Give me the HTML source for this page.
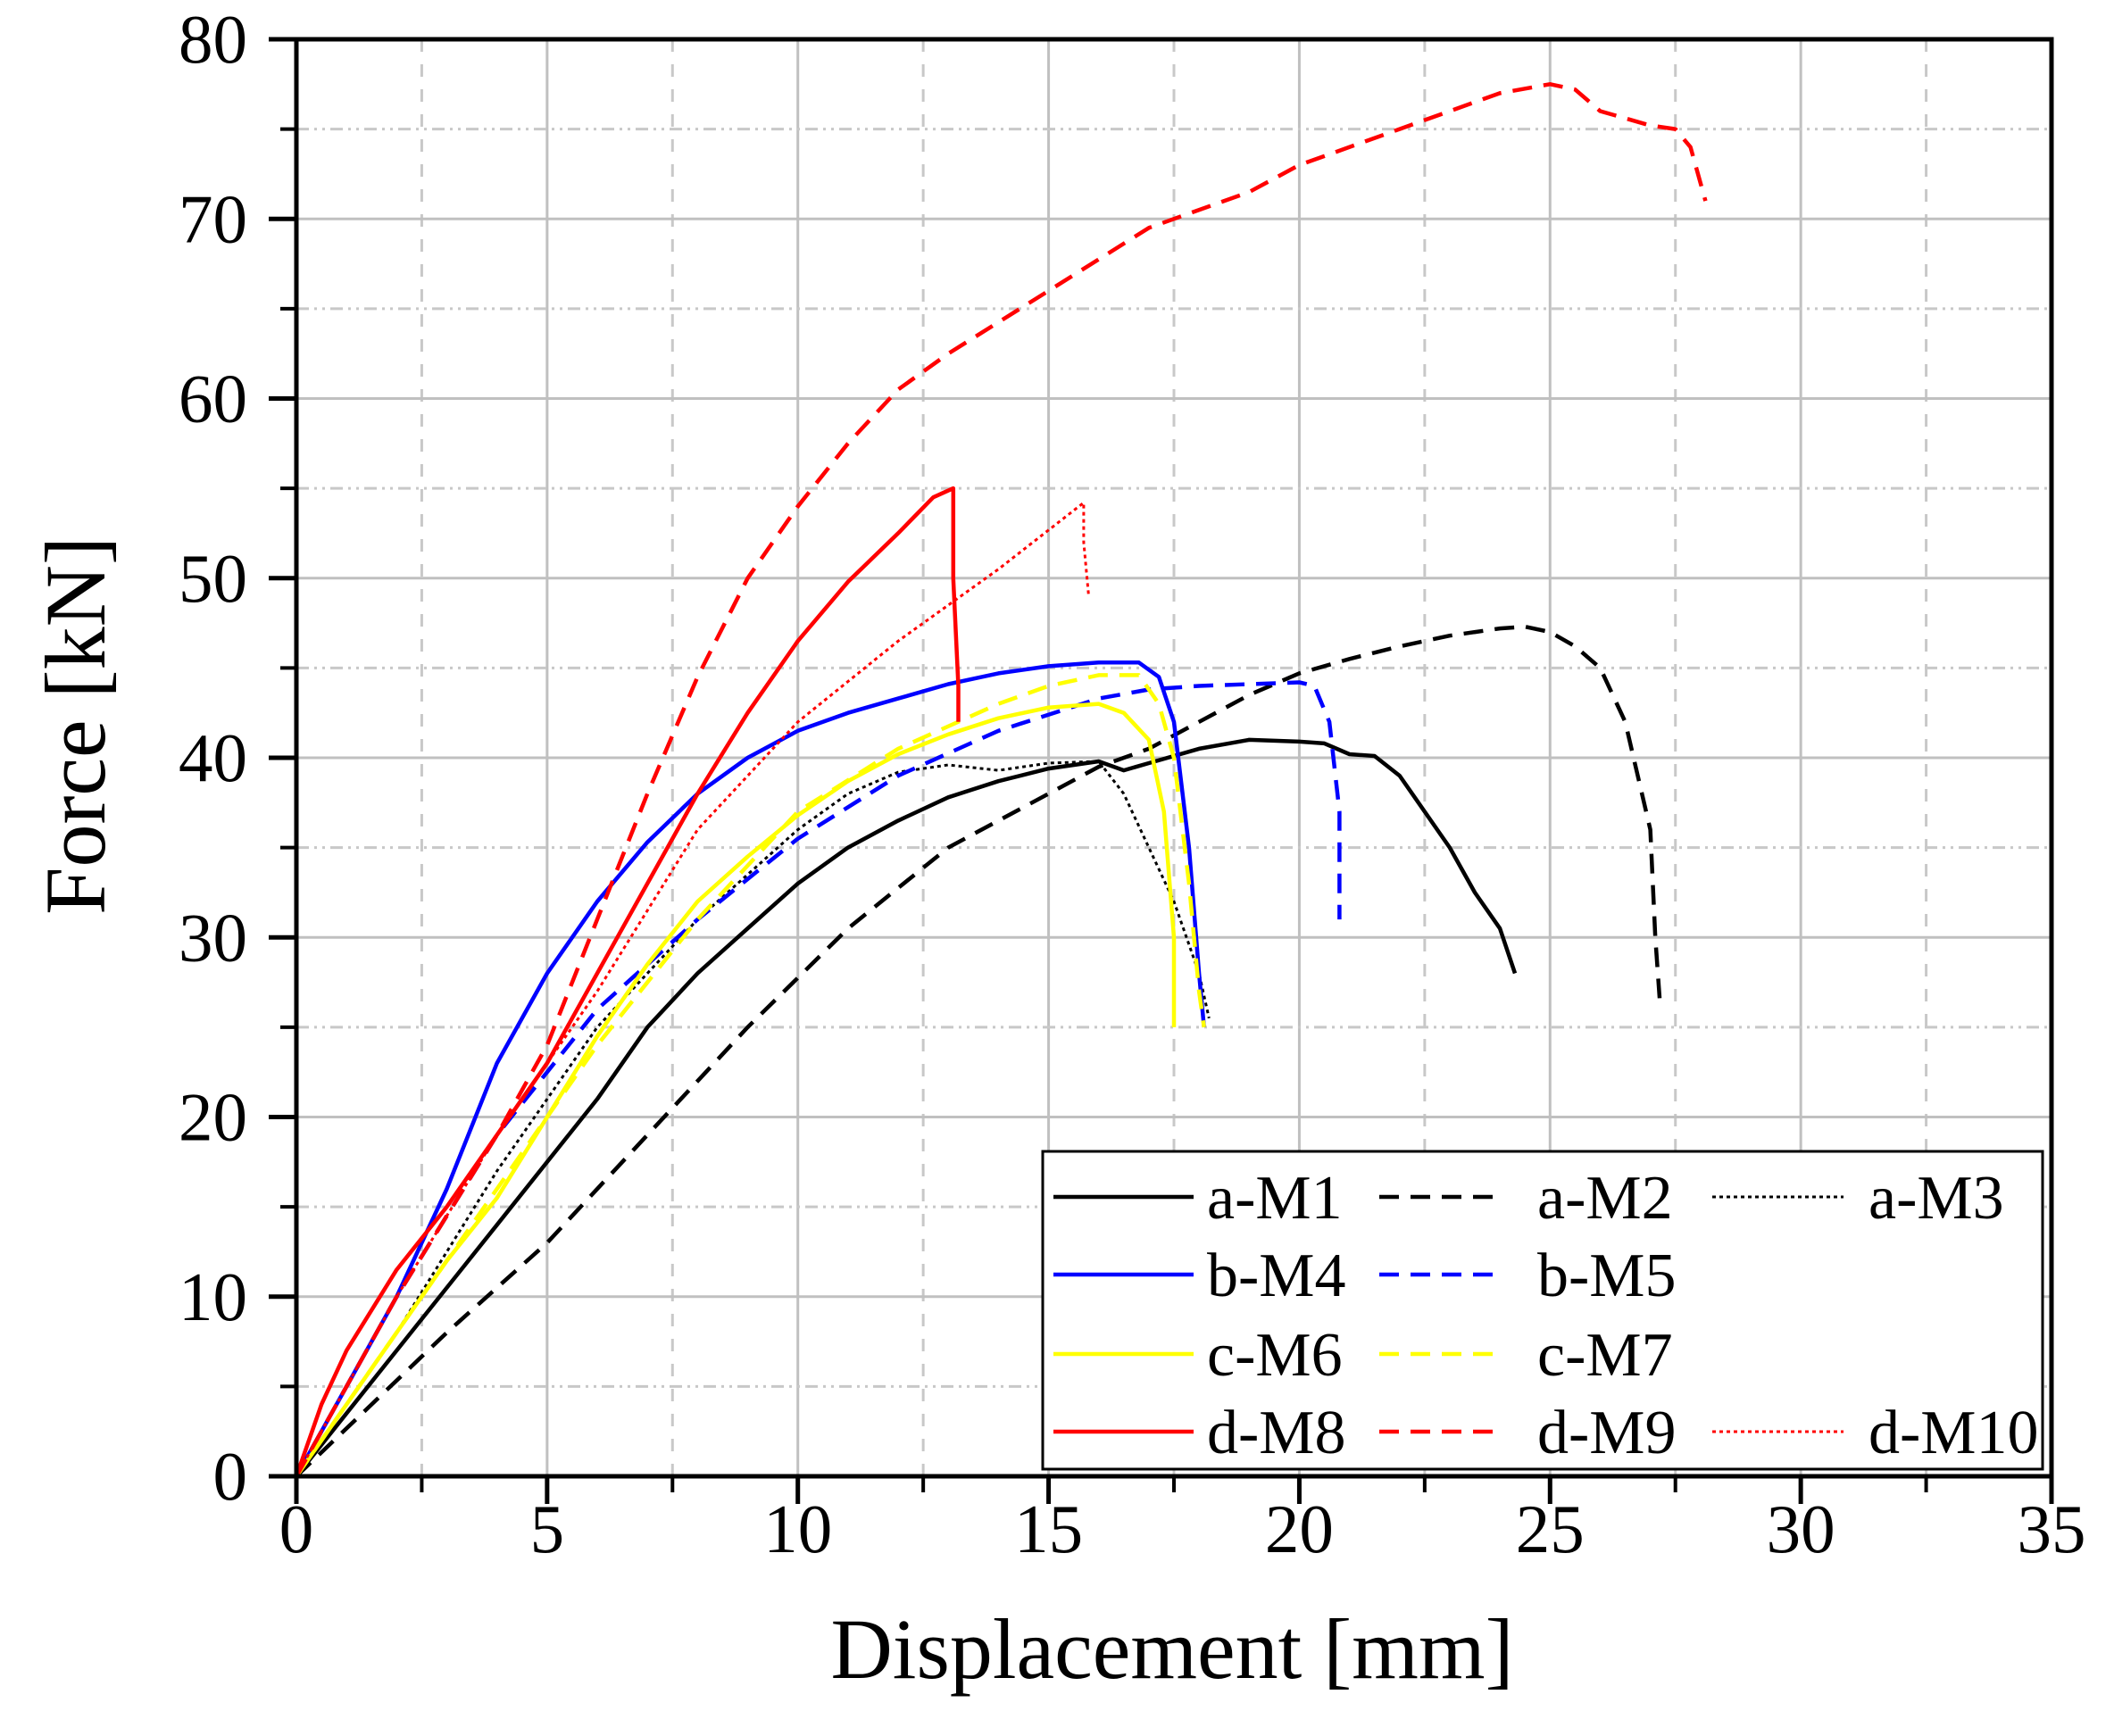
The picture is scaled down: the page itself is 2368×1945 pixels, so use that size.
<!DOCTYPE html>
<html><head><meta charset="utf-8"><style>
html,body{margin:0;padding:0;background:#fff;}
svg{display:block;font-family:"Liberation Serif",serif;}
</style></head><body>
<svg id="chart" width="2368" height="1945" viewBox="0 0 2368 1945">
<g id="grid"></g>
<g id="series"></g>
<g id="axes"></g>
<text x="1313" y="1880" font-size="96" text-anchor="middle">Displacement [mm]</text>
<text transform="translate(117,813) rotate(-90)" font-size="96" text-anchor="middle">Force [kN]</text>
<g id="legend"></g>
</svg>
<script>
const xTicks=[0,5,10,15,20,25,30,35];
const yTicks=[0,10,20,30,40,50,60,70,80];
const seriesNames=["a-M1","a-M2","a-M3","b-M4","b-M5","c-M6","c-M7","d-M8","d-M9","d-M10"];
const seriesColors=["#000","#000","#000","#0000ff","#0000ff","#ffff00","#ffff00","#ff0000","#ff0000","#ff0000"];
const seriesStyles=["solid","dash","dot","solid","dash","solid","dash","solid","dash","dot"];
const aM1=[[0,0],[2,7],[4,14],[6,21],[7,25],[8,28],[9,30.5],[10,33],[11,35],[12,36.5],[13,37.8],[14,38.7],[15,39.4],[16,39.8],[16.5,39.3],[17,39.7],[18,40.5],[19,41],[20,40.9],[20.5,40.8],[21,40.2],[21.5,40.1],[22,39],[23,35],[23.5,32.5],[24,30.5],[24.3,28]];
const aM2=[[0,0],[3,8],[5,13],[7,19],[9,25],[11,30.5],[13,35],[15,38],[16,39.5],[17,40.5],[18,42],[19,43.5],[20,44.7],[21,45.5],[22,46.2],[23,46.8],[24,47.2],[24.5,47.3],[25,47],[25.5,46.2],[26,45],[26.5,42],[27,36],[27.1,30],[27.2,26]];
const aM3=[[0,0],[2,8],[4,17],[6,25],[8,31],[10,36],[11,38],[12,39.2],[13,39.6],[14,39.3],[15,39.7],[16,39.8],[16.5,38],[17,35],[17.5,32],[18,28],[18.2,25.5]];
const bM4=[[0,0],[1,5],[2,10],[3,16],[4,23],[5,28],[6,32],[7,35.3],[8,38],[9,40],[10,41.5],[11,42.5],[12,43.3],[13,44.1],[14,44.7],[15,45.1],[16,45.3],[16.8,45.3],[17.2,44.5],[17.5,42],[17.8,35],[18,28],[18.1,25]];
const bM5=[[0,0],[2,10],[4,19],[6,26],[8,31],[10,35.5],[12,39],[14,41.5],[16,43.3],[17,43.8],[18,44],[19,44.1],[20,44.2],[20.3,44],[20.6,42],[20.8,37],[20.8,31]];
const cM6=[[0,0],[1,4],[2,8],[3,12],[4,15.5],[5,20],[6,24.5],[7,28.5],[8,32],[9,34.5],[10,36.8],[11,38.7],[12,40.2],[13,41.3],[14,42.2],[15,42.8],[16,43],[16.5,42.5],[17,41],[17.3,37],[17.5,30],[17.5,25]];
const cM7=[[0,0],[2,8],[4,16],[6,24],[8,31],[10,37],[12,40.5],[14,43],[15,44],[16,44.6],[16.8,44.6],[17.2,43],[17.5,40],[17.8,33],[18,27],[18.1,25]];
const dM8=[[0,0],[0.5,4],[1,7],[2,11.5],[3,15],[4,19],[5,23],[6,28],[7,33],[8,38],[9,42.5],[10,46.5],[11,49.8],[12,52.5],[12.7,54.5],[13.1,55],[13.1,50],[13.2,44],[13.2,42]];
const dM9=[[0,0],[2,10],[4,19],[5,24],[6,31],[7,38],[8,44.5],[9,50],[10,54],[11,57.5],[12,60.5],[13,62.5],[15,66],[17,69.5],[19,71.5],[20,73],[21,74],[22,75],[23,76],[24,77],[25,77.5],[25.5,77.2],[26,76],[27,75.2],[27.5,75],[27.8,74],[28,72],[28.1,71]];
const dM10=[[0,0],[2,10],[4,19],[6,27],[8,36],[10,42],[12,46.5],[14,50.5],[15.7,54.2],[15.7,52],[15.8,49]];
const seriesData=[aM1,aM2,aM3,bM4,bM5,cM6,cM7,dM8,dM9,dM10];

const X0=332,X1=2298,Y0=1654,Y1=44;
const sx=v=>X0+(v-0)/35*(X1-X0);
const sy=v=>Y0-(v-0)/80*(Y0-Y1);
const NS="http://www.w3.org/2000/svg";
function mk(tag,attrs,parent){const e=document.createElementNS(NS,tag);for(const k in attrs)e.setAttribute(k,attrs[k]);parent.appendChild(e);return e;}
const dashFor=s=>s==="dash"?"22,13":s==="dot"?"4,4":"none";
const widthFor=s=>s==="dot"?3:4.5;
const grid=document.getElementById('grid'),axes=document.getElementById('axes'),ser=document.getElementById('series'),leg=document.getElementById('legend');
for(let i=0;i<xTicks.length;i++){
  const v=xTicks[i];
  if(v>0&&v<35){const l=mk('line',{x1:sx(v),x2:sx(v),y1:Y1,y2:Y0,stroke:'#c0c0c0','stroke-width':3},grid);
  
  }
  if(i<xTicks.length-1){const m=v+2.5;const l=mk('line',{x1:sx(m),x2:sx(m),y1:Y1,y2:Y0,stroke:'#c8c8c8','stroke-width':3,'stroke-dasharray':'14,14'},grid);
  
  }
}
for(let i=0;i<yTicks.length;i++){
  const v=yTicks[i];
  if(v>0&&v<80){const l=mk('line',{x1:X0,x2:X1,y1:sy(v),y2:sy(v),stroke:'#c0c0c0','stroke-width':3},grid);
  
  }
  if(i<yTicks.length-1){const m=v+5;const l=mk('line',{x1:X0,x2:X1,y1:sy(m),y2:sy(m),stroke:'#c8c8c8','stroke-width':3,'stroke-dasharray':'14,6,3,6,3,6'},grid);
  
  }
}
for(let s=0;s<seriesData.length;s++){
  const d=seriesData[s].map(p=>sx(p[0]).toFixed(1)+','+sy(p[1]).toFixed(1)).join(' ');
  const pl=mk('polyline',{points:d,fill:'none',stroke:seriesColors[s],'stroke-width':widthFor(seriesStyles[s]),'stroke-dasharray':dashFor(seriesStyles[s]),'stroke-linejoin':'round'},ser);
  
  
}
const fr=mk('rect',{x:X0,y:Y1,width:X1-X0,height:Y0-Y1,fill:'none',stroke:'#000','stroke-width':5},axes);


for(let i=0;i<xTicks.length;i++){
  const v=xTicks[i];
  const t=mk('line',{x1:sx(v),x2:sx(v),y1:Y0,y2:Y0+31,stroke:'#000','stroke-width':5},axes);
  
  
  if(i<xTicks.length-1){const m=mk('line',{x1:sx(v+2.5),x2:sx(v+2.5),y1:Y0,y2:Y0+18,stroke:'#000','stroke-width':4},axes);
  
  }
  const tx=mk('text',{x:sx(v),y:1739,'font-size':77,'text-anchor':'middle'},axes);tx.textContent=v;
  
  
}
for(let i=0;i<yTicks.length;i++){
  const v=yTicks[i];
  const t=mk('line',{x1:X0-31,x2:X0,y1:sy(v),y2:sy(v),stroke:'#000','stroke-width':5},axes);
  
  
  if(i<yTicks.length-1){const m=mk('line',{x1:X0-18,x2:X0,y1:sy(v+5),y2:sy(v+5),stroke:'#000','stroke-width':4},axes);
  
  }
  const tx=mk('text',{x:277,y:sy(v)+26,'font-size':77,'text-anchor':'end'},axes);tx.textContent=v;
  
  
}
const lb=mk('rect',{x:1168,y:1290,width:1120,height:356,fill:'#fff',stroke:'#000','stroke-width':3},leg);


const rowY=[1341,1428,1517,1604];
const colL=[[1180,1337,1352],[1545,1680,1722],[1918,2065,2093]];
const slots=[[0,0],[0,1],[0,2],[1,0],[1,1],[2,0],[2,1],[3,0],[3,1],[3,2]];
for(let s=0;s<seriesNames.length;s++){
  const [r,c]=slots[s];const y=rowY[r];const col=colL[c];
  const l=mk('line',{x1:col[0],x2:col[1],y1:y,y2:y,stroke:seriesColors[s],'stroke-width':widthFor(seriesStyles[s]),'stroke-dasharray':dashFor(seriesStyles[s])},leg);
  
  
  const t=mk('text',{x:col[2],y:y+24,'font-size':70,'text-anchor':'start'},leg);t.textContent=seriesNames[s];
  
  
}
</script>
</body></html>
